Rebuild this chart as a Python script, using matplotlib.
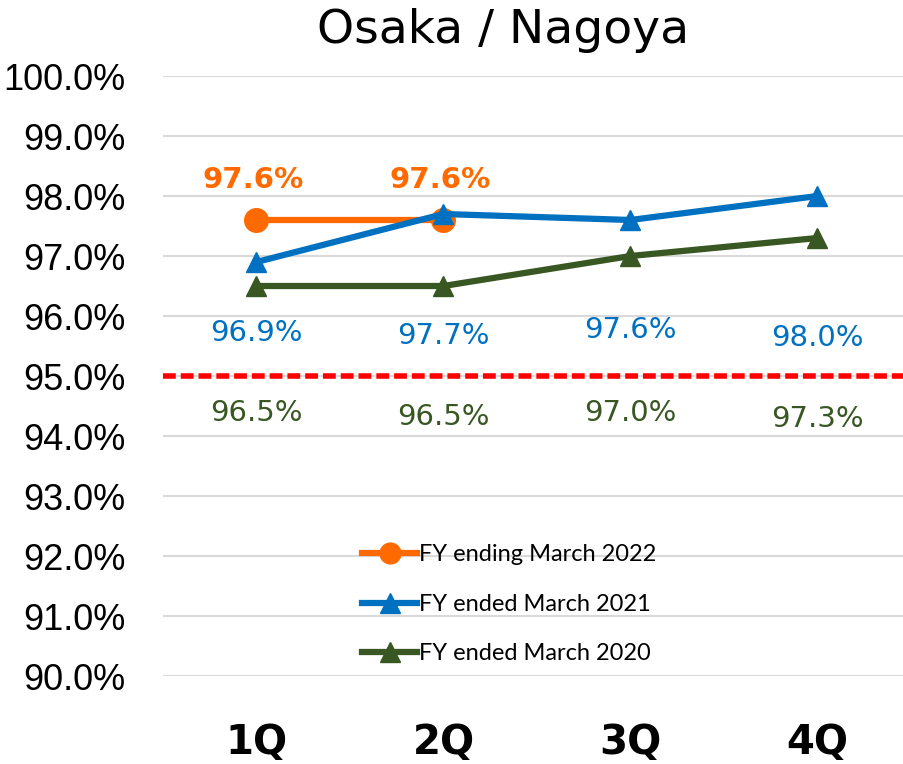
import matplotlib
matplotlib.use("Agg")
import matplotlib.pyplot as plt
from matplotlib.ticker import FuncFormatter

# Osaka / Nagoya occupancy by quarter
QUARTERS = ["1Q", "2Q", "3Q", "4Q"]
FY2022 = [97.6, 97.6]               # FY ending March 2022 (1Q, 2Q only)
FY2021 = [96.9, 97.7, 97.6, 98.0]   # FY ended March 2021
FY2020 = [96.5, 96.5, 97.0, 97.3]   # FY ended March 2020
TARGET = 95.0

# label y-positions (data units), as placed in the original
LABEL_Y_2022 = [98.27, 98.27]
LABEL_Y_2021 = [95.72, 95.67, 95.76, 95.64]
LABEL_Y_2020 = [94.39, 94.31, 94.38, 94.28]

ORANGE = "#ff6a00"
BLUE = "#0070c0"
GREEN = "#385723"

fig = plt.figure(figsize=(9.04, 7.64), dpi=100)
ax = fig.add_axes([163 / 904, 1 - 676 / 764, 748 / 904, 600 / 764])

x = list(range(len(QUARTERS)))

ax.plot(x[:len(FY2022)], FY2022, color=ORANGE, lw=4.5, marker="o", ms=17,
        label="FY ending March 2022", zorder=4)
ax.plot(x, FY2021, color=BLUE, lw=4.5, marker="^", ms=15,
        label="FY ended March 2021", zorder=5)
ax.plot(x, FY2020, color=GREEN, lw=4.5, marker="^", ms=15,
        label="FY ended March 2020", zorder=3)

ax.axhline(TARGET, color="red", lw=4, ls=(0, (2.3, 0.9)), zorder=2)

for xi, v, ly in zip(x, FY2022, LABEL_Y_2022):
    ax.text(xi - 0.02, ly, f"{v:.1f}%", color=ORANGE, fontsize=21,
            fontweight="bold", ha="center", va="center")
for xi, v, ly in zip(x, FY2021, LABEL_Y_2021):
    ax.text(xi, ly, f"{v:.1f}%", color=BLUE, fontsize=21,
            ha="center", va="center")
for xi, v, ly in zip(x, FY2020, LABEL_Y_2020):
    ax.text(xi, ly, f"{v:.1f}%", color=GREEN, fontsize=21,
            ha="center", va="center")

ax.set_xlim(-0.5, 3.5)
ax.set_ylim(90, 100)
ax.set_yticks(range(90, 101))
ax.yaxis.set_major_formatter(FuncFormatter(lambda v, _: f"{v:.1f}%"))
ax.set_xticks(x)
ax.set_xticklabels(QUARTERS, fontsize=29, fontweight="bold")
for lab in ax.get_yticklabels():
    lab.set_family(["Liberation Sans", "DejaVu Sans"])
    lab.set_fontsize(26)
ax.tick_params(axis="y", length=0, pad=27)
ax.tick_params(axis="x", length=0, pad=34)

ax.grid(axis="y", color="#d9d9d9", lw=1.5)
ax.set_axisbelow(True)
for s in ax.spines.values():
    s.set_visible(False)

fig.text(0.556, 0.96, "Osaka / Nagoya", fontsize=34, ha="center", va="center")

leg = ax.legend(loc="upper left", bbox_to_anchor=(0.254, 0.235), frameon=False,
                handlelength=2.3, handletextpad=0.1,
                labelspacing=1.2, borderaxespad=0,
                prop={"family": ["Lato", "DejaVu Sans"], "size": 17})
for h in leg.legend_handles:
    h.set_markersize(15)

fig.savefig("out.png", dpi=100)
